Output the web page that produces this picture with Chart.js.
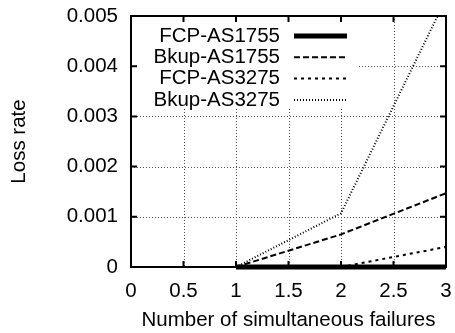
<!DOCTYPE html>
<html>
<head>
<meta charset="utf-8">
<script src="https://cdn.jsdelivr.net/npm/chart.js@4.4.0/dist/chart.umd.min.js"></script>
<style>
  html, body { margin: 0; padding: 0; background: #fff; }
  #wrap { width: 455px; height: 333px; }
</style>
</head>
<body>
<div id="wrap"><canvas id="lossChart" width="455" height="333"></canvas></div>
<script>
// Data
const failures = [1, 2, 3];
const fcpAS1755 = [0, 0, 0];
const bkupAS1755 = [0, 0.00065, 0.00147];
const fcpAS3275 = [0, 0, 0.0004];
const bkupAS3275 = [0, 0.00107, 0.00534];

const xTicks = [0, 0.5, 1, 1.5, 2, 2.5, 3];
const yTicks = [0, 0.001, 0.002, 0.003, 0.004, 0.005];
const seriesNames = ['FCP-AS1755', 'Bkup-AS1755', 'FCP-AS3275', 'Bkup-AS3275'];

const FONT = '20.5px "Liberation Sans", Arial, sans-serif';

function points(values) {
    return failures.map((f, i) => ({ x: f, y: values[i] }));
}

// gnuplot-like frame, dotted grid, inward ticks and key
const gnuplotLook = {
    id: 'gnuplotLook',
    beforeDatasetsDraw(chart) {
        const ctx = chart.ctx;
        const { left, right, top, bottom } = chart.chartArea;
        const xs = chart.scales.x, ys = chart.scales.y;
        ctx.save();
        ctx.strokeStyle = '#555';
        ctx.lineWidth = 1;
        ctx.setLineDash([1, 2]);
        xTicks.slice(1, -1).forEach(v => {
            const px = Math.round(xs.getPixelForValue(v)) + 0.5;
            ctx.beginPath(); ctx.moveTo(px, top); ctx.lineTo(px, bottom); ctx.stroke();
        });
        yTicks.slice(1, -1).forEach(v => {
            const py = Math.round(ys.getPixelForValue(v)) + 0.5;
            ctx.beginPath(); ctx.moveTo(left, py); ctx.lineTo(right, py); ctx.stroke();
        });
        // key area hides the grid behind it
        ctx.fillStyle = '#fff';
        ctx.fillRect(left + 1, top + 1, 358 - left, 107 - top);
        ctx.restore();
    },
    afterDatasetsDraw(chart) {
        const ctx = chart.ctx;
        const { left, right, top, bottom } = chart.chartArea;
        const xs = chart.scales.x, ys = chart.scales.y;
        const tickLen = 6;
        ctx.save();
        ctx.setLineDash([]);
        ctx.strokeStyle = '#000';
        ctx.lineWidth = 2;
        ctx.strokeRect(left, top, right - left, bottom - top);

        xTicks.forEach(v => {
            const px = xs.getPixelForValue(v);
            ctx.beginPath();
            ctx.moveTo(px, bottom); ctx.lineTo(px, bottom - tickLen);
            ctx.moveTo(px, top); ctx.lineTo(px, top + tickLen);
            ctx.stroke();
        });
        yTicks.forEach(v => {
            const py = ys.getPixelForValue(v);
            ctx.beginPath();
            ctx.moveTo(left, py); ctx.lineTo(left + tickLen, py);
            ctx.moveTo(right, py); ctx.lineTo(right - tickLen, py);
            ctx.stroke();
        });

        // tick labels
        ctx.fillStyle = '#000';
        ctx.font = FONT;
        ctx.textBaseline = 'middle';
        ctx.textAlign = 'right';
        yTicks.forEach(v => {
            ctx.fillText(String(v), left - 13, ys.getPixelForValue(v));
        });
        ctx.textAlign = 'center';
        xTicks.forEach(v => {
            ctx.fillText(String(v), xs.getPixelForValue(v), bottom + 24);
        });

        // axis titles
        ctx.fillText('Number of simultaneous failures', (left + right) / 2, bottom + 53);
        ctx.save();
        ctx.translate(19, (top + bottom) / 2);
        ctx.rotate(-Math.PI / 2);
        ctx.fillText('Loss rate', 0, 0);
        ctx.restore();

        // key
        ctx.textAlign = 'right';
        chart.data.datasets.forEach((ds, i) => {
            const ry = top + 20 + i * 21.3;
            ctx.fillStyle = '#000';
            ctx.fillText(ds.label, 280, ry);
            ctx.strokeStyle = ds.borderColor;
            ctx.lineWidth = ds.borderWidth;
            ctx.setLineDash(ds.borderDash || []);
            ctx.beginPath();
            ctx.moveTo(294, ry); ctx.lineTo(347, ry);
            ctx.stroke();
        });
        ctx.restore();
    }
};

const chart = new Chart(document.getElementById('lossChart'), {
    type: 'line',
    data: {
        datasets: [
            { label: seriesNames[0], data: points(fcpAS1755), borderColor: '#000', borderWidth: 5, borderDash: [],
              clip: { left: 0, top: 0, right: 0, bottom: 6 } },
            { label: seriesNames[1], data: points(bkupAS1755), borderColor: '#000', borderWidth: 2, borderDash: [6, 3] },
            { label: seriesNames[2], data: points(fcpAS3275), borderColor: '#000', borderWidth: 2, borderDash: [3, 4] },
            { label: seriesNames[3], data: points(bkupAS3275), borderColor: '#000', borderWidth: 2, borderDash: [1, 2] }
        ]
    },
    options: {
        responsive: false,
        animation: false,
        devicePixelRatio: 1,
        layout: { padding: { left: 131, right: 9, top: 16, bottom: 66 } },
        elements: {
            point: { radius: 0 },
            line: { tension: 0, fill: false, borderCapStyle: 'butt' }
        },
        scales: {
            x: { type: 'linear', min: 0, max: 3, display: false },
            y: { type: 'linear', min: 0, max: 0.005, display: false }
        },
        plugins: {
            legend: { display: false },
            tooltip: { enabled: false }
        }
    },
    plugins: [gnuplotLook]
});
</script>
</body>
</html>
